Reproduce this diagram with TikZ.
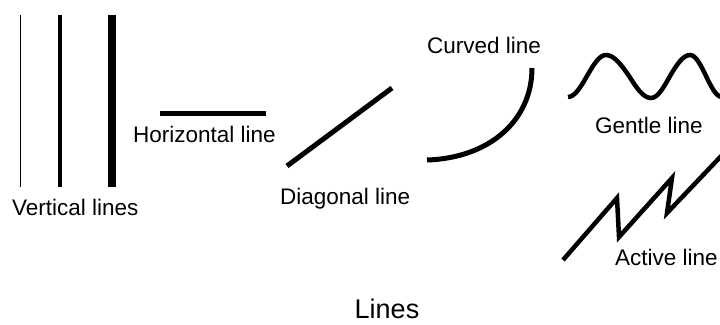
\documentclass[tikz,border=0pt]{standalone}
\usepackage{fontspec}
\setmainfont{Liberation Sans}
\tikzset{
  label/.style={anchor=base west, inner sep=0pt, font=\fontsize{22.5}{27}\selectfont},
  stroke/.style={line width=5pt},
}
\begin{document}
\begin{tikzpicture}[x=1pt, y=-1pt]
    \useasboundingbox (0,0) rectangle (720,324);

    % Vertical lines
    \draw[line width=0.9pt] (20,15) -- (20,187);
    \draw[line width=3.8pt] (60,15) -- (60,187);
    \draw[line width=8.5pt] (112,15) -- (112,187);
    \node[label] (vert) at (12,215) {Vertical lines};

    % Horizontal line
    \draw[stroke] (160,113) -- (266,113);
    \node[label] (horiz) at (133,142) {Horizontal line};

    % Diagonal line
    \draw[stroke] (287,166) -- (392,88);
    \node[label] (diag) at (280,204) {Diagonal line};

    % Curved line
    \draw[stroke] (427,160) .. controls (490,158) and (532,120) .. (532,68);
    \node[label] (curved) at (427,53) {Curved line};

    % Gentle line
    \draw[line width=4.5pt] (568,97) cos (587,76) sin (606,55) cos (629,76)
        sin (651,98) cos (670,76) sin (690,55) cos (706,76) sin (722,97);
    \node[label] (gentle) at (595,133) {Gentle line};

    % Active line
    \draw[line width=4.5pt, line join=miter] (563,260) -- (617,198) -- (619,237)
        -- (672,178) -- (667,213) -- (725,152);
    \node[label] (active) at (615,265) {Active line};

    % Title
    \node[anchor=base, inner sep=0pt, font=\fontsize{27}{32}\selectfont] (title) at (387,318) {Lines};
\end{tikzpicture}
\end{document}
